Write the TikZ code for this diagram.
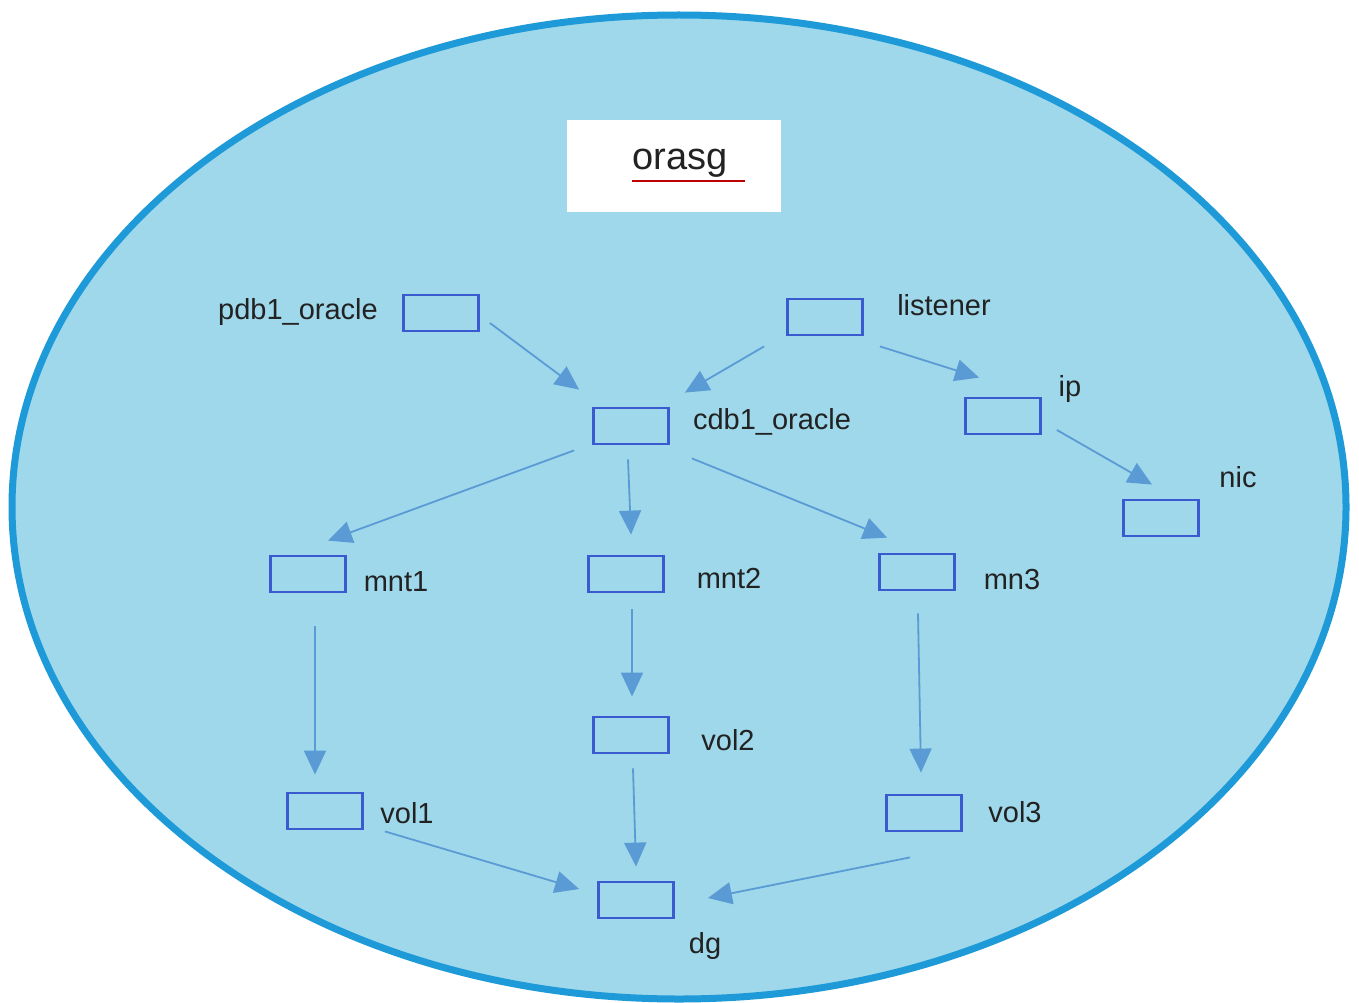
\documentclass[tikz,border=0pt]{standalone}
\usepackage{fontspec}
\setmainfont{Liberation Sans}
\usetikzlibrary{arrows.meta,calc}
\definecolor{bgfill}{HTML}{9ED8EA}
\definecolor{rim}{HTML}{1E9AD8}
\definecolor{boxline}{HTML}{3A5BD0}
\definecolor{arr}{HTML}{5B9BD5}
\definecolor{txt}{HTML}{222222}
\begin{document}
\begin{tikzpicture}[x=1pt,y=-1pt,
  res/.style={draw=boxline,line width=2.8pt,minimum width=75pt,minimum height=36pt,inner sep=0pt},
  lbl/.style={text=txt,font=\fontsize{29}{32}\selectfont,inner sep=0pt},
  dep/.style={draw=arr,line width=1.8pt,-{Triangle[length=24pt,width=22pt]}}]
\useasboundingbox[fill=white] (0,0) rectangle (1359,1003);
\draw[fill=bgfill,draw=rim,line width=7pt] (679,507) ellipse [x radius=667, y radius=492];
% title
\node[fill=white,minimum width=214pt,minimum height=91pt,inner sep=0pt] (title) at (674,166) {};
\node[lbl,font=\fontsize{38}{42}\selectfont] (orasg) at (680,163) {orasg};
\draw[red!75!black,line width=1.2pt] (632,181) -- (745,181);
% boxes
\node[res] (pdb1) at (441,313) {};
\node[res] (listener) at (825,317) {};
\node[res] (cdb1) at (631,426) {};
\node[res] (ip) at (1003,416) {};
\node[res] (nic) at (1161,518) {};
\node[res] (mnt1) at (308,574) {};
\node[res] (mnt2) at (626,574) {};
\node[res] (mn3) at (917,572) {};
\node[res] (vol2) at (631,735) {};
\node[res] (vol1) at (325,811) {};
\node[res] (vol3) at (924,813) {};
\node[res] (dg) at (636,900) {};
% labels
\node[lbl] (Lpdb1) at (298,312) {pdb1\_oracle};
\node[lbl] (Llistener) at (944,305) {listener};
\node[lbl] (Lcdb1) at (772,422) {cdb1\_oracle};
\node[lbl] (Lip) at (1070,389) {ip};
\node[lbl] (Lnic) at (1238,477) {nic};
\node[lbl] (Lmnt1) at (396,582) {mnt1};
\node[lbl] (Lmnt2) at (729,578) {mnt2};
\node[lbl] (Lmn3) at (1012,580) {mn3};
\node[lbl] (Lvol2) at (728,740) {vol2};
\node[lbl] (Lvol1) at (407,813) {vol1};
\node[lbl] (Lvol3) at (1015,812) {vol3};
\node[lbl] (Ldg) at (705,946) {dg};
% arrows
\draw[dep] ($(pdb1.east)+(10,10)$) -- ($(cdb1.north west)+(-13,-17)$);
\draw[dep] ($(listener.south west)+(-22,10)$) -- ($(cdb1.north east)+(15,-14)$);
\draw[dep] ($(listener.south east)+(16,10)$) -- ($(ip.north west)+(15,-19)$);
\draw[dep] ($(ip.east)+(15,14)$) -- ($(nic.north)+(-9,-14)$);
\draw[dep] ($(cdb1.south west)+(-18,5)$) -- ($(mnt1.north)+(20,-14)$);
\draw[dep] ($(cdb1.south)+(-3,14)$) -- ($(mnt2.north)+(5,-20)$);
\draw[dep] ($(cdb1.south east)+(22,13)$) -- ($(mn3.north west)+(9,-15)$);
\draw[dep] ($(mnt1.south)+(7,33)$) -- ($(vol1.north)+(-10,-17)$);
\draw[dep] ($(mnt2.south)+(6,16)$) -- ($(vol2.north)+(1,-19)$);
\draw[dep] ($(mn3.south)+(1,22)$) -- ($(vol3.north)+(-3,-21)$);
\draw[dep] ($(vol2.south)+(2,14)$) -- ($(dg.north)+(0,-14)$);
\draw[dep] ($(vol1.south east)+(21,1)$) -- ($(dg.west)+(-18,-11)$);
\draw[dep] ($(vol3.south)+(-14,25)$) -- ($(dg.east)+(33,-2)$);
\end{tikzpicture}
\end{document}
